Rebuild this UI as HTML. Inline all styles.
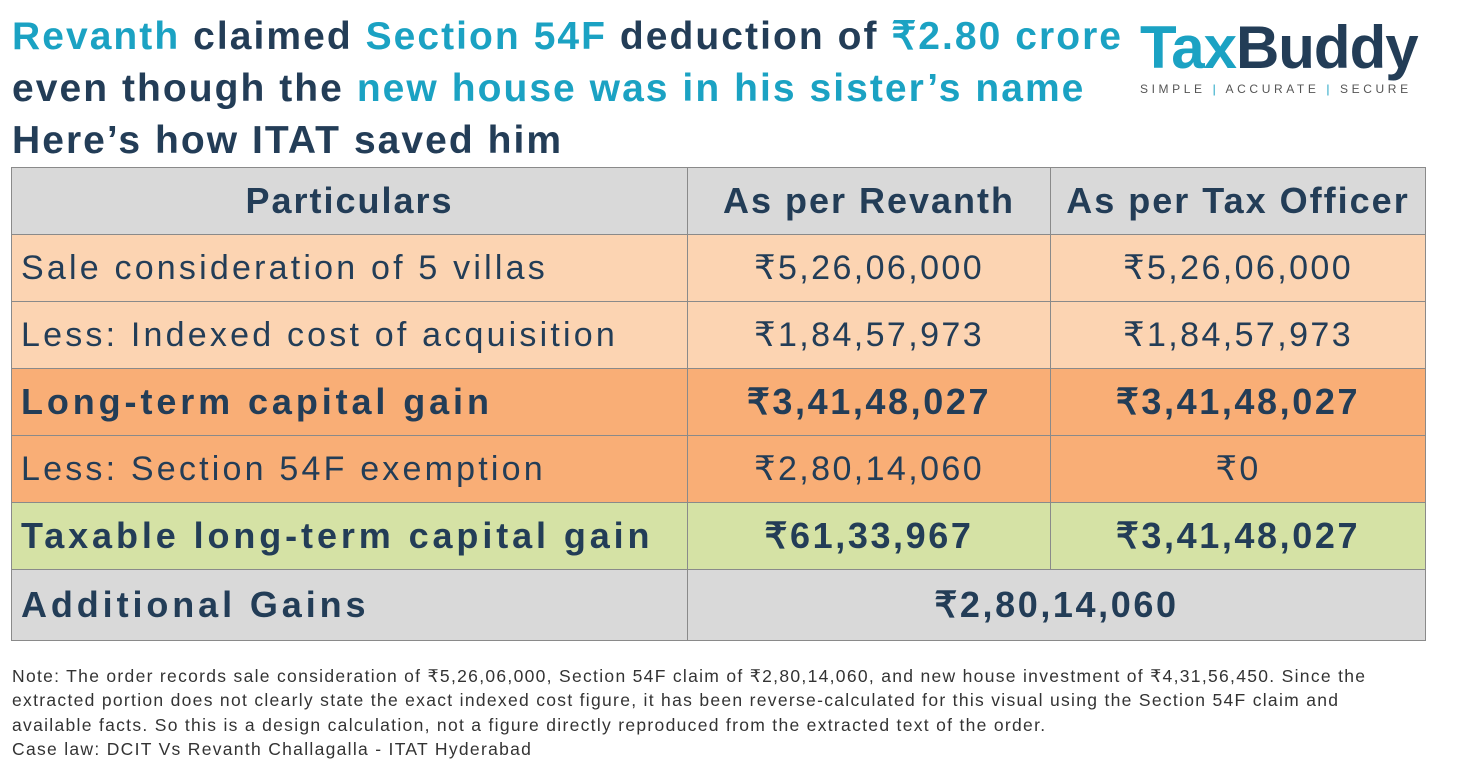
<!DOCTYPE html>
<html><head><meta charset="utf-8">
<style>
body{margin:0;width:1461px;height:772px;background:#fff;font-family:"Liberation Sans",sans-serif;color:#233d57;overflow:hidden;position:relative}
.t{position:absolute;left:12px;font-weight:bold;font-size:39px;letter-spacing:2.05px;white-space:nowrap}
.c{color:#1ba2c3}
table{position:absolute;left:11px;top:167px;border-collapse:collapse;width:1415px;table-layout:fixed}
td{border:1px solid #8a8a8a;height:66px;padding:0;font-size:34px;text-align:center;white-space:nowrap;letter-spacing:2.4px}
td.l{text-align:left;padding-left:9px;letter-spacing:3.2px}
tr.b td{font-weight:bold;font-size:36px;letter-spacing:2.6px}
tr.b td.l{letter-spacing:3.9px}
tr.h td{letter-spacing:2px}
.g{background:#d9d9d9}.p{background:#fcd4b2}.o{background:#f9ae76}.gr{background:#d5e2a5}
.note{position:absolute;left:12px;top:664px;font-size:17.5px;line-height:24.3px;color:#333;letter-spacing:1.3px;white-space:nowrap}
</style></head><body>
<div class="t" style="top:14px"><span class="c">Revanth</span> claimed <span class="c">Section 54F</span> deduction of <span class="c">₹2.80 crore</span></div>
<div class="t" style="top:67px">even though the <span class="c">new house was in his sister’s name</span></div>
<div class="t" style="top:119px">Here’s how ITAT saved him</div>
<div style="position:absolute;left:1140px;top:14px;width:300px;white-space:nowrap">
<div style="font-size:60px;font-weight:bold;letter-spacing:-1px;line-height:68px"><span class="c">Tax</span><span style="color:#233d57">Buddy</span></div>
<div style="font-size:12px;letter-spacing:3.6px;color:#555;margin-top:0px">SIMPLE <span class="c">|</span> ACCURATE <span class="c">|</span> SECURE</div>
</div>
<table>
<colgroup><col style="width:676px"><col style="width:363px"><col></colgroup>
<tr class="b g h"><td>Particulars</td><td>As per Revanth</td><td>As per Tax Officer</td></tr>
<tr class="p"><td class="l">Sale consideration of 5 villas</td><td>₹5,26,06,000</td><td>₹5,26,06,000</td></tr>
<tr class="p"><td class="l">Less: Indexed cost of acquisition</td><td>₹1,84,57,973</td><td>₹1,84,57,973</td></tr>
<tr class="o b"><td class="l">Long-term capital gain</td><td>₹3,41,48,027</td><td>₹3,41,48,027</td></tr>
<tr class="o"><td class="l">Less: Section 54F exemption</td><td>₹2,80,14,060</td><td>₹0</td></tr>
<tr class="gr b"><td class="l">Taxable long-term capital gain</td><td>₹61,33,967</td><td>₹3,41,48,027</td></tr>
<tr class="g b"><td class="l" style="height:70px">Additional Gains</td><td colspan="2">₹2,80,14,060</td></tr>
</table>
<div class="note">Note: The order records sale consideration of ₹5,26,06,000, Section 54F claim of ₹2,80,14,060, and new house investment of ₹4,31,56,450. Since the<br>extracted portion does not clearly state the exact indexed cost figure, it has been reverse-calculated for this visual using the Section 54F claim and<br>available facts. So this is a design calculation, not a figure directly reproduced from the extracted text of the order.<br>Case law: DCIT Vs Revanth Challagalla - ITAT Hyderabad</div>
</body></html>
